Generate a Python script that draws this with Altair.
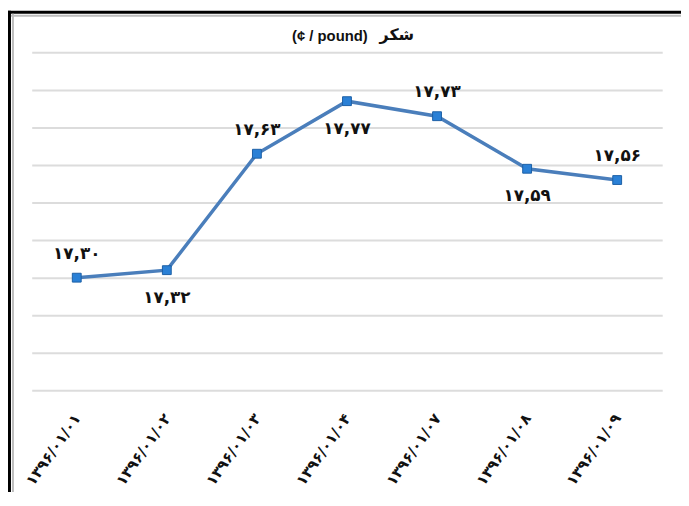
import altair as alt
import pandas as pd

dates = ["۱۳۹۶/۰۱/۰۱", "۱۳۹۶/۰۱/۰۲", "۱۳۹۶/۰۱/۰۳", "۱۳۹۶/۰۱/۰۴",
         "۱۳۹۶/۰۱/۰۷", "۱۳۹۶/۰۱/۰۸", "۱۳۹۶/۰۱/۰۹"]
prices = [17.30, 17.32, 17.63, 17.77, 17.73, 17.59, 17.56]
label_side = ["above", "below", "above", "below", "above", "below", "above"]
y_ticks = [17.0, 17.1, 17.2, 17.3, 17.4, 17.5, 17.6, 17.7, 17.8, 17.9]
title_fa = ["شکر"]
title_unit = ["(¢ / pound)"]

PERSIAN = str.maketrans("0123456789.", "۰۱۲۳۴۵۶۷۸۹,")


def fa(v):
    return f"{v:.2f}".translate(PERSIAN)


df = pd.DataFrame({
    "date": dates,
    "price": prices,
    "label": [fa(v) for v in prices],
    "side": label_side,
})

W, H = 638, 342
FONT = "'DejaVu Sans', 'Liberation Sans'"

x = alt.X("date:N", sort=dates, scale=alt.Scale(type="point", padding=0.5),
          axis=alt.Axis(title=None, domain=False, ticks=False, grid=False,
                        labelAngle=-55, labelFont=FONT, labelFontSize=15,
                        labelFontWeight="bold", labelColor="#111111",
                        labelPadding=25, labelAlign="right", labelBaseline="middle"))
y = alt.Y("price:Q", scale=alt.Scale(domain=[17.0, 17.9], nice=False, zero=False),
          axis=alt.Axis(title=None, values=y_ticks, labels=False, ticks=False,
                        domain=False, grid=True, gridColor="#dcdcdc", gridWidth=2))

base = alt.Chart(df)
line = base.mark_line(color="#4a7ebb", strokeWidth=3.5).encode(x=x, y=y)
pts = base.mark_point(shape="square", filled=True, size=80, color="#2a80d6",
                      stroke="#1c5fa6", strokeWidth=1, opacity=1).encode(x=x, y=y)
txt_kw = dict(font=FONT, fontSize=17, fontWeight="bold", color="#111111")
above = base.transform_filter(alt.datum.side == "above").mark_text(
    dy=-24, **txt_kw).encode(x=x, y=y, text="label:N")
below = base.transform_filter(alt.datum.side == "below").mark_text(
    dy=28, **txt_kw).encode(x=x, y=y, text="label:N")

one = alt.Chart(pd.DataFrame({"a": [0]}))
t_fa = alt.Chart(pd.DataFrame({"t": title_fa})).mark_text(
    font="'DejaVu Sans'", fontSize=16, fontWeight="bold",
    color="#111111", align="left", baseline="middle").encode(
    x=alt.value(352), y=alt.value(-17), text="t:N")
t_unit = alt.Chart(pd.DataFrame({"t": title_unit})).mark_text(
    font="'Liberation Sans'", fontSize=15, fontWeight="bold",
    color="#111111", align="right", baseline="middle").encode(
    x=alt.value(340), y=alt.value(-16), text="t:N")
frame_left = one.mark_rule(color="#000000", strokeWidth=3).encode(
    x=alt.value(-22.5), y=alt.value(-42), y2=alt.value(450))
frame_top = one.mark_rule(color="#000000", strokeWidth=3).encode(
    x=alt.value(-24), x2=alt.value(660), y=alt.value(-40.5))
shade_left = one.mark_rule(color="#bdbdbd", strokeWidth=2).encode(
    x=alt.value(-19), y=alt.value(-39), y2=alt.value(450))
shade_top = one.mark_rule(color="#bdbdbd", strokeWidth=2).encode(
    x=alt.value(-21), x2=alt.value(660), y=alt.value(-37))

chart = alt.layer(frame_left, frame_top, shade_left, shade_top,
                  line, pts, above, below, t_unit, t_fa).properties(
    width=W, height=H,
    background="#ffffff",
    autosize=alt.AutoSizeParams(type="none"),
    padding={"left": 24, "top": 42, "right": 19, "bottom": 100},
).configure_view(strokeWidth=0, stroke="transparent")

chart.save("out.html", embed_options={"renderer": "svg", "actions": False})
